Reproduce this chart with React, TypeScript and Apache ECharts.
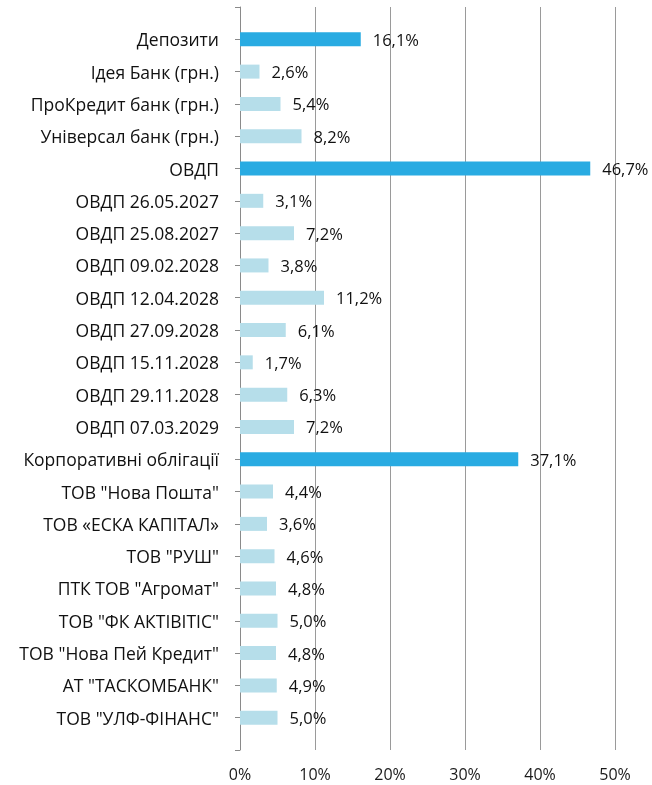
import React, { useEffect, useRef } from "react";
import * as echarts from "echarts";

const categories: string[] = [
  "Депозити",
  "Ідея Банк (грн.)",
  "ПроКредит банк (грн.)",
  "Універсал банк (грн.)",
  "ОВДП",
  "ОВДП 26.05.2027",
  "ОВДП 25.08.2027",
  "ОВДП 09.02.2028",
  "ОВДП 12.04.2028",
  "ОВДП 27.09.2028",
  "ОВДП 15.11.2028",
  "ОВДП 29.11.2028",
  "ОВДП 07.03.2029",
  "Корпоративні облігації",
  "ТОВ \"Нова Пошта\"",
  "ТОВ «ЕСКА КАПІТАЛ»",
  "ТОВ \"РУШ\"",
  "ПТК ТОВ \"Агромат\"",
  "ТОВ \"ФК АКТІВІТІС\"",
  "ТОВ \"Нова Пей Кредит\"",
  "АТ \"ТАСКОМБАНК\"",
  "ТОВ \"УЛФ-ФІНАНС\"",
];

const values: number[] = [
  16.1, 2.6, 5.4, 8.2, 46.7, 3.1, 7.2, 3.8, 11.2, 6.1, 1.7, 6.3, 7.2, 37.1,
  4.4, 3.6, 4.6, 4.8, 5.0, 4.8, 4.9, 5.0,
];

const groupTotals: string[] = ["Депозити", "ОВДП", "Корпоративні облігації"];

const xTicks: number[] = [0, 10, 20, 30, 40, 50];

const DARK = "#29ABE2";
const LIGHT = "#B6DEEA";

export default function App() {
  const ref = useRef<HTMLDivElement>(null);

  useEffect(() => {
    if (!ref.current) return;
    const chart = echarts.init(ref.current, null, { renderer: "svg" });
    const axisCats = ["", ...categories, ""];
    const data = [
      { value: null as any },
      ...categories.map((c, i) => ({
        value: values[i],
        itemStyle: { color: groupTotals.includes(c) ? DARK : LIGHT },
      })),
      { value: null as any },
    ];
    chart.setOption({
      animation: false,
      textStyle: { fontFamily: "Open Sans" },
      grid: { left: 240, right: 37, top: 7, bottom: 35, containLabel: false },
      xAxis: {
        type: "value",
        min: xTicks[0],
        max: xTicks[xTicks.length - 1],
        interval: 10,
        axisLine: { show: false },
        axisTick: { show: false },
        axisLabel: {
          color: "#1a1a1a",
          fontSize: 16,
          margin: 16,
          fontFamily: "Open Sans",
          formatter: (v: number) => `${v}%`,
        },
        splitLine: { show: true, lineStyle: { color: "#9a9a9a", width: 1 } },
      },
      yAxis: {
        type: "category",
        data: axisCats,
        inverse: true,
        boundaryGap: false,
        axisLine: { show: true, lineStyle: { color: "#8a8a8a", width: 1 } },
        axisTick: { show: true, length: 5, lineStyle: { color: "#8a8a8a" } },
        axisLabel: {
          color: "#111",
          fontSize: 17.5,
          margin: 21,
          fontFamily: "Open Sans",
          interval: 0,
        },
        splitLine: { show: false },
      },
      series: [
        {
          type: "bar",
          data,
          barWidth: 14,
          label: {
            show: true,
            position: "right",
            distance: 12,
            color: "#111",
            fontSize: 16.5,
            fontFamily: "Open Sans",
            formatter: (p: any) =>
              p.value == null ? "" : `${Number(p.value).toFixed(1).replace(".", ",")}%`,
          },
        },
      ],
    });
    return () => chart.dispose();
  }, []);

  return (
    <div
      ref={ref}
      style={{ position: "fixed", left: 0, top: 0, width: 652, height: 785 }}
    />
  );
}
